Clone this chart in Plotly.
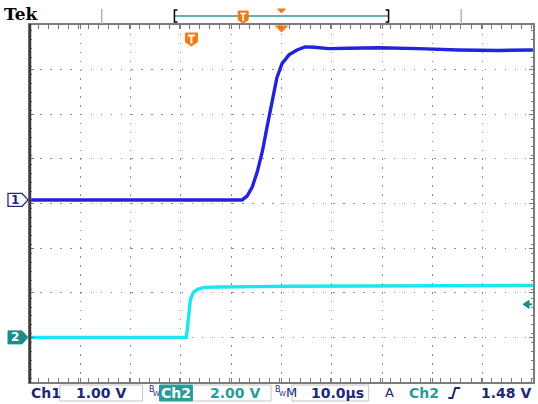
import plotly.graph_objects as go

# ---------------- data ----------------
ch1_t = [-31.7, 10.5, 11.5, 12.5, 13.5, 14.5, 15.4, 16.4, 17.4, 18.4, 19.8, 21.4,
         23.0, 24.8, 27.7, 31.7, 37.6, 45.5, 53.5, 61.4, 68.3]          # µs
ch1_v = [0.0, 0.0, 0.09, 0.29, 0.63, 1.08, 1.61, 2.20, 2.74, 3.05, 3.25, 3.36,
         3.43, 3.42, 3.39, 3.40, 3.41, 3.39, 3.36, 3.35, 3.36]          # V

ch2_t = [-31.7, -0.6, -0.2, 0.2, 0.8, 1.6, 3.0, 6.0, 20.0, 45.0, 68.3]  # µs
ch2_v = [0.0, 0.0, 0.81, 1.70, 2.02, 2.15, 2.24, 2.26, 2.29, 2.30, 2.33]  # V

ch1_scale = 1.0      # V/div
ch2_scale = 2.0      # V/div
time_scale = 10.0    # µs/div
trig_level = 1.48    # V on Ch2
status_labels = ["Ch1", "1.00 V", "Ch2", "2.00 V", "M", "10.0µs", "A", "Ch2", "1.48 V"]

# ---------------- screen geometry ----------------
W, H = 538, 404
L, R, T, B = 30, 535, 25, 382          # graticule edges (px)
PW, PH = R - L, B - T
trig_div_from_left = (190 - L) / (PW / 10)
ch1_gnd_div = 0.08                      # ground position (div above centre)
ch2_gnd_div = -3.0

t_range = [-trig_div_from_left * time_scale, (10 - trig_div_from_left) * time_scale]
y1_range = [(-4 - ch1_gnd_div) * ch1_scale, (4 - ch1_gnd_div) * ch1_scale]
y2_range = [(-4 - ch2_gnd_div) * ch2_scale, (4 - ch2_gnd_div) * ch2_scale]

def px(x):
    return (x - L) / PW

def py(y):
    return (B - y) / PH

NAVY = "#1c2878"
TEAL = "#2a9a9a"
ORANGE = "#f07a18"
BLUE = "#2224dc"
CYAN = "#19e6ee"

fig = go.Figure()
fig.add_trace(go.Scatter(x=ch2_t, y=ch2_v, yaxis="y2", mode="lines",
                         line=dict(color=CYAN, width=3.4), hoverinfo="skip", showlegend=False))
fig.add_trace(go.Scatter(x=ch1_t, y=ch1_v, yaxis="y", mode="lines",
                         line=dict(color=BLUE, width=3.4), hoverinfo="skip", showlegend=False))

axis_common = dict(showticklabels=False, zeroline=False, showline=True, linecolor="#7c7c7c",
                   linewidth=2, mirror="allticks", ticks="inside", ticklen=4, tickcolor="#7a7a7a",
                   gridcolor="#8a8a8a", gridwidth=1, fixedrange=True)

fig.update_layout(
    width=W, height=H,
    margin=dict(l=L, r=W - R, t=T, b=H - B),
    paper_bgcolor="white", plot_bgcolor="white",
    xaxis=dict(range=t_range, tick0=t_range[0], dtick=time_scale, griddash="1.5px,7.4px",
               minor=dict(dtick=time_scale / 5, ticks="inside", ticklen=2, tickcolor="#7a7a7a",
                          showgrid=False),
               **axis_common),
    yaxis=dict(range=y1_range, tick0=y1_range[0], dtick=ch1_scale, griddash="1.5px,8.6px",
               minor=dict(dtick=ch1_scale / 5, ticks="inside", ticklen=2, tickcolor="#7a7a7a",
                          showgrid=False),
               **axis_common),
    yaxis2=dict(range=y2_range, overlaying="y", visible=False, fixedrange=True),
    showlegend=False,
)

shapes = []
ann = []

# darker left frame edge
shapes.append(dict(type="line", xref="paper", yref="paper", x0=0, x1=0, y0=py(B + 1), y1=py(T - 1),
                   line=dict(color="#3c3c3c", width=2.5)))

# ---------- top bar ----------
ann.append(dict(text="<b>Tek</b>", x=px(2), y=py(14), xref="paper", yref="paper",
                xanchor="left", yanchor="middle", showarrow=False,
                font=dict(family="DejaVu Serif", size=17, color="black")))
for xv in (102, 463):
    shapes.append(dict(type="line", xref="paper", yref="paper", x0=px(xv), x1=px(xv),
                       y0=py(9), y1=py(24), line=dict(color="#b4b4b4", width=1.5)))
shapes.append(dict(type="line", xref="paper", yref="paper", x0=px(175), x1=px(390),
                   y0=py(16), y1=py(16), line=dict(color="#3a9494", width=1.5)))
for xv, d in ((175, 1), (390, -1)):
    shapes.append(dict(type="path", xref="paper", yref="paper",
                       path=f"M {px(xv + 3 * d)},{py(10)} L {px(xv)},{py(10)} L {px(xv)},{py(22)} L {px(xv + 3 * d)},{py(22)}",
                       line=dict(color="black", width=1.5)))
# small trigger marker in record bar
shapes.append(dict(type="path", xref="paper", yref="paper", xsizemode="pixel", ysizemode="pixel",
                   xanchor=px(244), yanchor=py(17),
                   path="M -5,6 L 5,6 L 5,-3 L 0,-6 L -5,-3 Z",
                   fillcolor=ORANGE, line=dict(color=ORANGE, width=1)))
shapes.append(dict(type="path", xref="paper", yref="paper", xsizemode="pixel", ysizemode="pixel",
                   xanchor=px(244), yanchor=py(17),
                   path="M -3,3.5 L 3,3.5 M 0,3.5 L 0,-4",
                   line=dict(color="white", width=1.6)))
# horizontal position markers
centre_t = (t_range[0] + t_range[1]) / 2
shapes.append(dict(type="path", xref="x", yref="paper", xsizemode="pixel", ysizemode="pixel",
                   xanchor=centre_t, yanchor=py(9),
                   path="M -4,0 L 4,0 L 0,-4 Z", fillcolor=ORANGE, line=dict(color=ORANGE, width=1)))
shapes.append(dict(type="path", xref="x", yref="paper", xsizemode="pixel", ysizemode="pixel",
                   xanchor=centre_t, yanchor=1,
                   path="M -6,-1 L 6,-1 L 0,-7 Z", fillcolor=ORANGE, line=dict(color=ORANGE, width=1)))
# trigger position "T" marker
shapes.append(dict(type="path", xref="x", yref="paper", xsizemode="pixel", ysizemode="pixel",
                   xanchor=0.4, yanchor=py(39),
                   path="M -6,6 L 6,6 L 6,-3 L 0,-7 L -6,-3 Z",
                   fillcolor=ORANGE, line=dict(color=ORANGE, width=1)))
shapes.append(dict(type="path", xref="x", yref="paper", xsizemode="pixel", ysizemode="pixel",
                   xanchor=0.4, yanchor=py(39),
                   path="M -3.5,3.5 L 3.5,3.5 M 0,3.5 L 0,-4.5",
                   line=dict(color="white", width=2)))

# ---------- channel ground markers ----------
shapes.append(dict(type="path", xref="paper", yref="y", xsizemode="pixel", ysizemode="pixel",
                   xanchor=0, yanchor=0,
                   path="M -22,6.5 L -8,6.5 L -2,0 L -8,-6.5 L -22,-6.5 Z",
                   fillcolor="white", line=dict(color=NAVY, width=1.3)))
ann.append(dict(text="<b>1</b>", x=px(15), y=0, xref="paper", yref="y", showarrow=False,
                xanchor="center", yanchor="middle", font=dict(family="DejaVu Sans", size=12, color=NAVY)))
shapes.append(dict(type="path", xref="paper", yref="y2", xsizemode="pixel", ysizemode="pixel",
                   xanchor=0, yanchor=0,
                   path="M -22,6.5 L -8,6.5 L -2,0 L -8,-6.5 L -22,-6.5 Z",
                   fillcolor="#1f8c8c", line=dict(color="#1f8c8c", width=1)))
ann.append(dict(text="<b>2</b>", x=px(15), y=0, xref="paper", yref="y2", showarrow=False,
                xanchor="center", yanchor="middle", font=dict(family="DejaVu Sans", size=12, color="white")))
# trigger level marker
shapes.append(dict(type="path", xref="paper", yref="y2", xsizemode="pixel", ysizemode="pixel",
                   xanchor=1, yanchor=trig_level,
                   path="M -10,0 L -4,4 L -4,-4 Z", fillcolor="#1f8c8c", line=dict(color="#1f8c8c", width=1)))
shapes.append(dict(type="line", xref="paper", yref="y2", xsizemode="pixel", ysizemode="pixel",
                   xanchor=1, yanchor=trig_level, x0=-5, x1=-1, y0=0, y1=0,
                   line=dict(color="#1f8c8c", width=2)))

# ---------- status bar ----------
YS = 393
def txt(s, x, color, anchor="left", size=14, bold=True, y=YS):
    ann.append(dict(text=(f"<b>{s}</b>" if bold else s), x=px(x), y=py(y), xref="paper", yref="paper",
                    xanchor=anchor, yanchor="middle", showarrow=False,
                    font=dict(family="DejaVu Sans", size=size, color=color)))

def box(x0, x1, fill=None, color="#c4c4c4"):
    shapes.append(dict(type="rect", xref="paper", yref="paper", x0=px(x0), x1=px(x1),
                       y0=py(385), y1=py(401), line=dict(color=color, width=1),
                       fillcolor=fill if fill else "rgba(0,0,0,0)", layer="below"))

box(60, 143)
box(193, 272)
box(293, 370)
box(160, 193, fill=TEAL, color=TEAL)
txt(status_labels[0], 29, NAVY)
txt(status_labels[1], 128, NAVY, anchor="right")
txt("B", 147, NAVY, size=8, bold=False, y=389)
txt("W", 151, NAVY, size=7, bold=False, y=394)
txt(status_labels[2], 176.5, "white", anchor="center")
txt(status_labels[3], 263, TEAL, anchor="right")
txt("B", 274, NAVY, size=8, bold=False, y=389)
txt("W", 278, NAVY, size=7, bold=False, y=394)
txt(status_labels[4], 285, NAVY, size=13, bold=False)
txt(status_labels[5], 367, NAVY, anchor="right")
txt(status_labels[6], 384, NAVY, size=13, bold=False)
txt(status_labels[7], 409, TEAL)
shapes.append(dict(type="path", xref="paper", yref="paper",
                   path=f"M {px(450)},{py(398)} L {px(454)},{py(398)} L {px(457)},{py(388)} L {px(462)},{py(388)}",
                   line=dict(color=NAVY, width=2)))
txt(status_labels[8], 535, NAVY, anchor="right")

fig.update_layout(shapes=shapes, annotations=ann)
fig.write_html("out.html")
